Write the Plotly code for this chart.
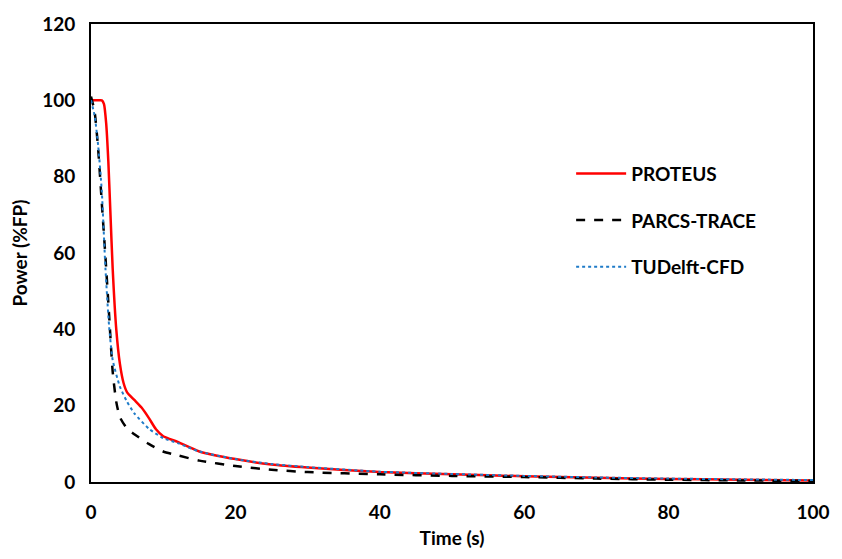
import plotly.graph_objects as go

# PROTEUS
t_proteus = [0, 0.5, 1, 1.5, 1.8, 2.1, 2.4, 2.7, 3, 3.5, 4, 4.5, 5, 6, 7, 8, 9, 10, 12, 15, 20, 25, 30, 40, 50, 60, 70, 80, 90, 100]
p_proteus = [100, 100, 100, 100, 99, 94, 84, 70, 56, 40, 31, 26, 23.5, 21.5, 19.5, 16.8, 13.8, 12, 10.5, 8, 6, 4.6, 3.8, 2.6, 2.0, 1.5, 1.1, 0.8, 0.6, 0.4]

# PARCS-TRACE
t_parcs = [0, 0.5, 1, 1.5, 2, 2.5, 3, 3.5, 4, 5, 6, 8, 10, 12, 15, 20, 25, 30, 40, 50, 60, 70, 80, 90, 100]
p_parcs = [101, 97, 87, 73, 59, 44, 29, 21, 17, 14, 12.5, 10, 8, 7, 5.6, 4.2, 3.2, 2.6, 2.0, 1.6, 1.3, 0.9, 0.6, 0.4, 0.3]

# TUDelft-CFD
t_cfd = [0, 0.5, 1, 1.5, 2, 2.5, 3, 4, 5, 6, 8, 10, 12, 15, 20, 25, 30, 40, 50, 60, 70, 80, 90, 100]
p_cfd = [100, 96, 88, 76, 56, 41, 32, 25, 21, 18, 14, 11.5, 10.2, 8, 6, 4.7, 3.9, 2.7, 2.1, 1.6, 1.2, 0.9, 0.7, 0.5]

x_ticks = [0, 20, 40, 60, 80, 100]
y_ticks = [0, 20, 40, 60, 80, 100, 120]

FONT = "Lato"
FS = 19

fig = go.Figure()
fig.add_trace(go.Scatter(x=t_proteus, y=p_proteus, name="PROTEUS", mode="lines",
                         line=dict(color="#ff0000", width=2.5, shape="spline", smoothing=0.5),
                         legendgroup="a"))
fig.add_trace(go.Scatter(x=t_parcs, y=p_parcs, name="PARCS-TRACE", mode="lines",
                         line=dict(color="#000000", width=2.5, dash="dash", shape="spline", smoothing=0.6),
                         legendgroup="b"))
fig.add_trace(go.Scatter(x=t_cfd, y=p_cfd, name="TUDelft-CFD", mode="lines",
                         line=dict(color="#1f7bc8", width=2, dash="dot", shape="spline", smoothing=0.6),
                         legendgroup="c"))

fig.update_layout(
    width=842, height=559,
    margin=dict(l=91, r=20, t=17, b=77),
    paper_bgcolor="white", plot_bgcolor="white",
    font=dict(family=FONT, size=FS, color="#000000"),
    legend=dict(x=0.665, y=0.715, xanchor="left", yanchor="top",
                font=dict(family=FONT, size=FS, color="#000000", weight="bold"),
                tracegroupgap=19, itemwidth=50, bgcolor="rgba(0,0,0,0)"),
    xaxis=dict(range=[0, 100], tickvals=x_ticks, showgrid=False, zeroline=False,
               showline=True, linecolor="black", linewidth=2, mirror=True,
               ticks="", ticklabelstandoff=12,
               tickfont=dict(family=FONT, size=FS, weight="bold", color="#000000"),
               title=dict(text="<b>Time (s)</b>", font=dict(family=FONT, size=FS, color="#000000"), standoff=10)),
    yaxis=dict(range=[0, 120], tickvals=y_ticks, showgrid=False, zeroline=False,
               showline=True, linecolor="black", linewidth=2, mirror=True,
               ticks="", ticklabelstandoff=10,
               tickfont=dict(family=FONT, size=FS, weight="bold", color="#000000"),
               title=dict(text="<b>Power (%FP)</b>", font=dict(family=FONT, size=FS, color="#000000"), standoff=9)),
)

fig.write_html("out.html")
